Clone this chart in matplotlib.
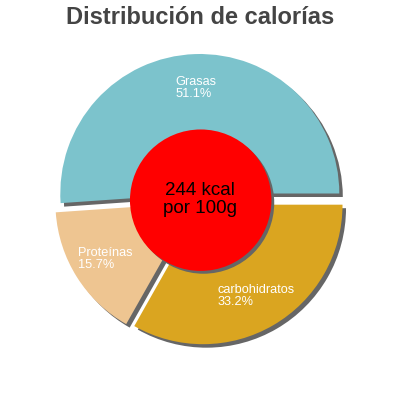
import matplotlib
matplotlib.use("Agg")
import matplotlib.pyplot as plt
from matplotlib.patches import Wedge, Circle
import numpy as np

categories = ["Grasas", "Proteínas", "carbohidratos"]
percents = [51.1, 15.7, 33.2]
colors = ["#7cc3cc", "#eec591", "#daa520"]
center_text = "244 kcal\npor 100g"
title = "Distribución de calorías"

plt.rcParams['font.family'] = ['Liberation Sans', 'DejaVu Sans']

fig = plt.figure(figsize=(4, 4), dpi=100)
ax = fig.add_axes([0, 0, 1, 1])
R_PX = 139.5

labels = [f"{c}\n{p:.1f}%" for c, p in zip(categories, percents)]
explode = [0.043] * len(percents)
wedges, texts = ax.pie(percents, labels=labels, colors=colors, startangle=0,
                       counterclock=True, explode=explode, labeldistance=0.76,
                       radius=1.0, center=(0, 0), frame=True,
                       wedgeprops=dict(linewidth=0, zorder=2),
                       textprops=dict(color='white', fontsize=9.2, zorder=5))
ax.set_xlim(-200 / R_PX, 200 / R_PX)
ax.set_ylim(-200.5 / R_PX, 199.5 / R_PX)
ax.set_aspect('equal')
ax.axis('off')

for t in texts:
    t.set_ha('center')
    t.set_va('center')
    t.set_multialignment('left')
    t.set_linespacing(1.0)

sh = 3.5 / R_PX
for w in wedges:
    cx, cy = w.center
    s = Wedge((cx + sh, cy - sh), w.r, w.theta1, w.theta2, facecolor='#666666',
              edgecolor='none', zorder=1)
    ax.add_patch(s)

ax.add_patch(Circle((sh, -sh), 0.507, facecolor='#666666', edgecolor='none', zorder=3))
ax.add_patch(Circle((0.005, -0.005), 0.507, facecolor='#ff0000', edgecolor='none', zorder=4))
ax.text(0.0, 0.0, center_text, ha='center', va='center', fontsize=13.5,
        color='black', linespacing=1.05, zorder=6)

fig.text(0.5, 1 - 17.5 / 400, title, ha='center', va='center', fontsize=17,
         fontweight='bold', color='#444444')

fig.savefig("out.png", dpi=100)
